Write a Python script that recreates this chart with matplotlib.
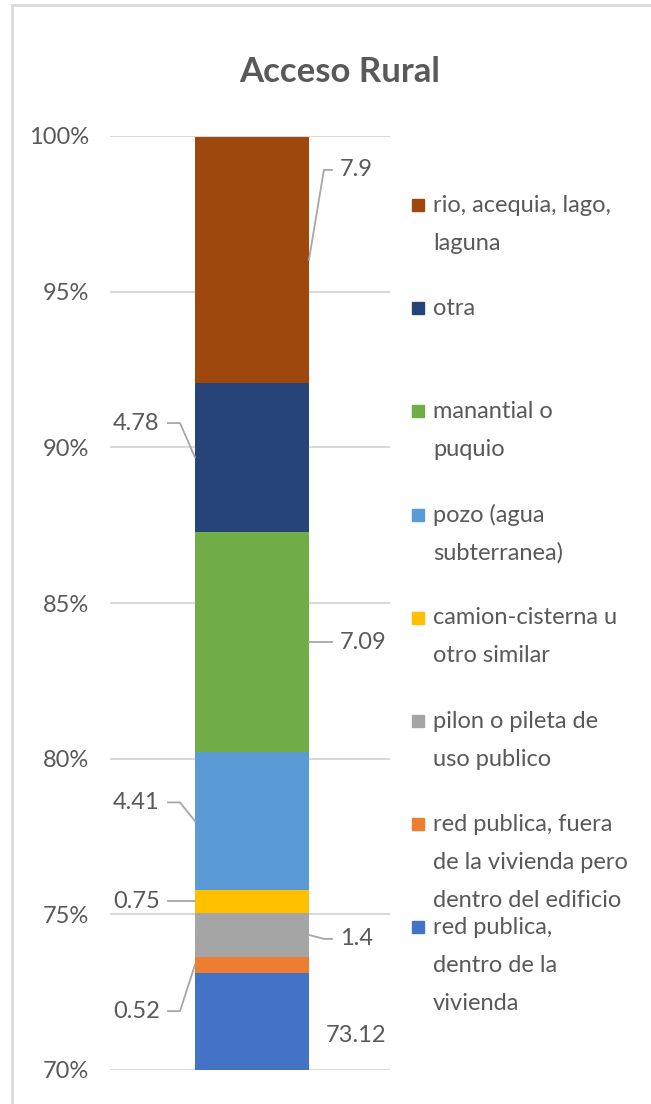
import matplotlib.pyplot as plt
from matplotlib.patches import Rectangle

plt.rcParams['font.family'] = ['Lato', 'DejaVu Sans']

# series from bottom to top of the stacked bar
categorias = [
    "red publica,\ndentro de la\nvivienda",
    "red publica, fuera\nde la vivienda pero\ndentro del edificio",
    "pilon o pileta de\nuso publico",
    "camion-cisterna u\notro similar",
    "pozo (agua\nsubterranea)",
    "manantial o\npuquio",
    "otra",
    "rio, acequia, lago,\nlaguna",
]
valores = [73.12, 0.52, 1.4, 0.75, 4.41, 7.09, 4.78, 7.9]
etiquetas = ["73.12", "0.52", "1.4", "0.75", "4.41", "7.09", "4.78", "7.9"]
colores = ["#4472C4", "#ED7D31", "#A5A5A5", "#FFC000",
           "#5B9BD5", "#70AD47", "#264478", "#9E480E"]
y_ticks = [70, 75, 80, 85, 90, 95, 100]

# where each data label sits: side and vertical offset (in %) from segment middle
lado = ["r", "l", "r", "l", "l", "r", "l", "r"]
desplaz = [-0.44, -1.49, -0.13, 0.0, 0.6, 0.0, 1.1, 2.89]

TXT = "#595959"
W, H = 651, 1104


def dibujar():
    fig = plt.figure(figsize=(W / 100, H / 100), dpi=100)
    ax = fig.add_axes([110 / W, 1 - 1070 / H, 280 / W, (1070 - 136) / H])

    base = 0.0
    for i, v in enumerate(valores):
        ax.bar(0, v, bottom=base, width=0.407, color=colores[i], zorder=3)
        # middle of the visible part of the segment
        mid = (max(base, 70) + base + v) / 2
        yt = mid + desplaz[i]
        if i == 0:
            ax.text(0.37, yt, etiquetas[i], ha="center", va="center",
                    fontsize=17, color=TXT)
        elif lado[i] == "r":
            ax.plot([0.2035, 0.257, 0.286], [mid, yt, yt], color="#a6a6a6",
                    lw=1.3, zorder=4, clip_on=False)
            ax.text(0.315, yt, etiquetas[i], ha="left", va="center",
                    fontsize=17, color=TXT)
        else:
            ax.plot([-0.2035, -0.257, -0.30], [mid, yt, yt], color="#a6a6a6",
                    lw=1.3, zorder=4, clip_on=False)
            ax.text(-0.33, yt, etiquetas[i], ha="right", va="center",
                    fontsize=17, color=TXT)
        base += v

    ax.set_xlim(-0.507, 0.493)
    ax.set_ylim(70, 100)
    ax.set_yticks(y_ticks)
    ax.set_yticklabels([f"{t}%" for t in y_ticks])
    ax.tick_params(axis="y", length=0, pad=15, labelsize=17, labelcolor=TXT)
    ax.set_xticks([])
    for s in ax.spines.values():
        s.set_visible(False)
    ax.grid(axis="y", color="#d9d9d9", lw=1.5, zorder=0)

    fig.text(340 / W, 1 - 72 / H, "Acceso Rural", ha="center", va="center",
             fontsize=25, fontweight="bold", color=TXT)

    # legend, top entry first
    for k, i in enumerate(reversed(range(len(categorias)))):
        y0 = 205 + k * 103.2
        fig.patches.append(Rectangle((412 / W, 1 - (y0 + 6) / H), 12 / W, 12 / H,
                                     transform=fig.transFigure,
                                     color=colores[i]))
        for j, linea in enumerate(categorias[i].split("\n")):
            fig.text(433 / W, 1 - (y0 + j * 38) / H, linea, ha="left",
                     va="center", fontsize=17, color=TXT)

    fig.patches.append(Rectangle((12 / W, -0.01), 1.0, 1 - 5 / H + 0.01,
                                 transform=fig.transFigure, fill=False,
                                 edgecolor="#d9d9d9", lw=2))

    fig.savefig("out.png", dpi=100, facecolor="white")


if __name__ == "__main__":
    dibujar()
